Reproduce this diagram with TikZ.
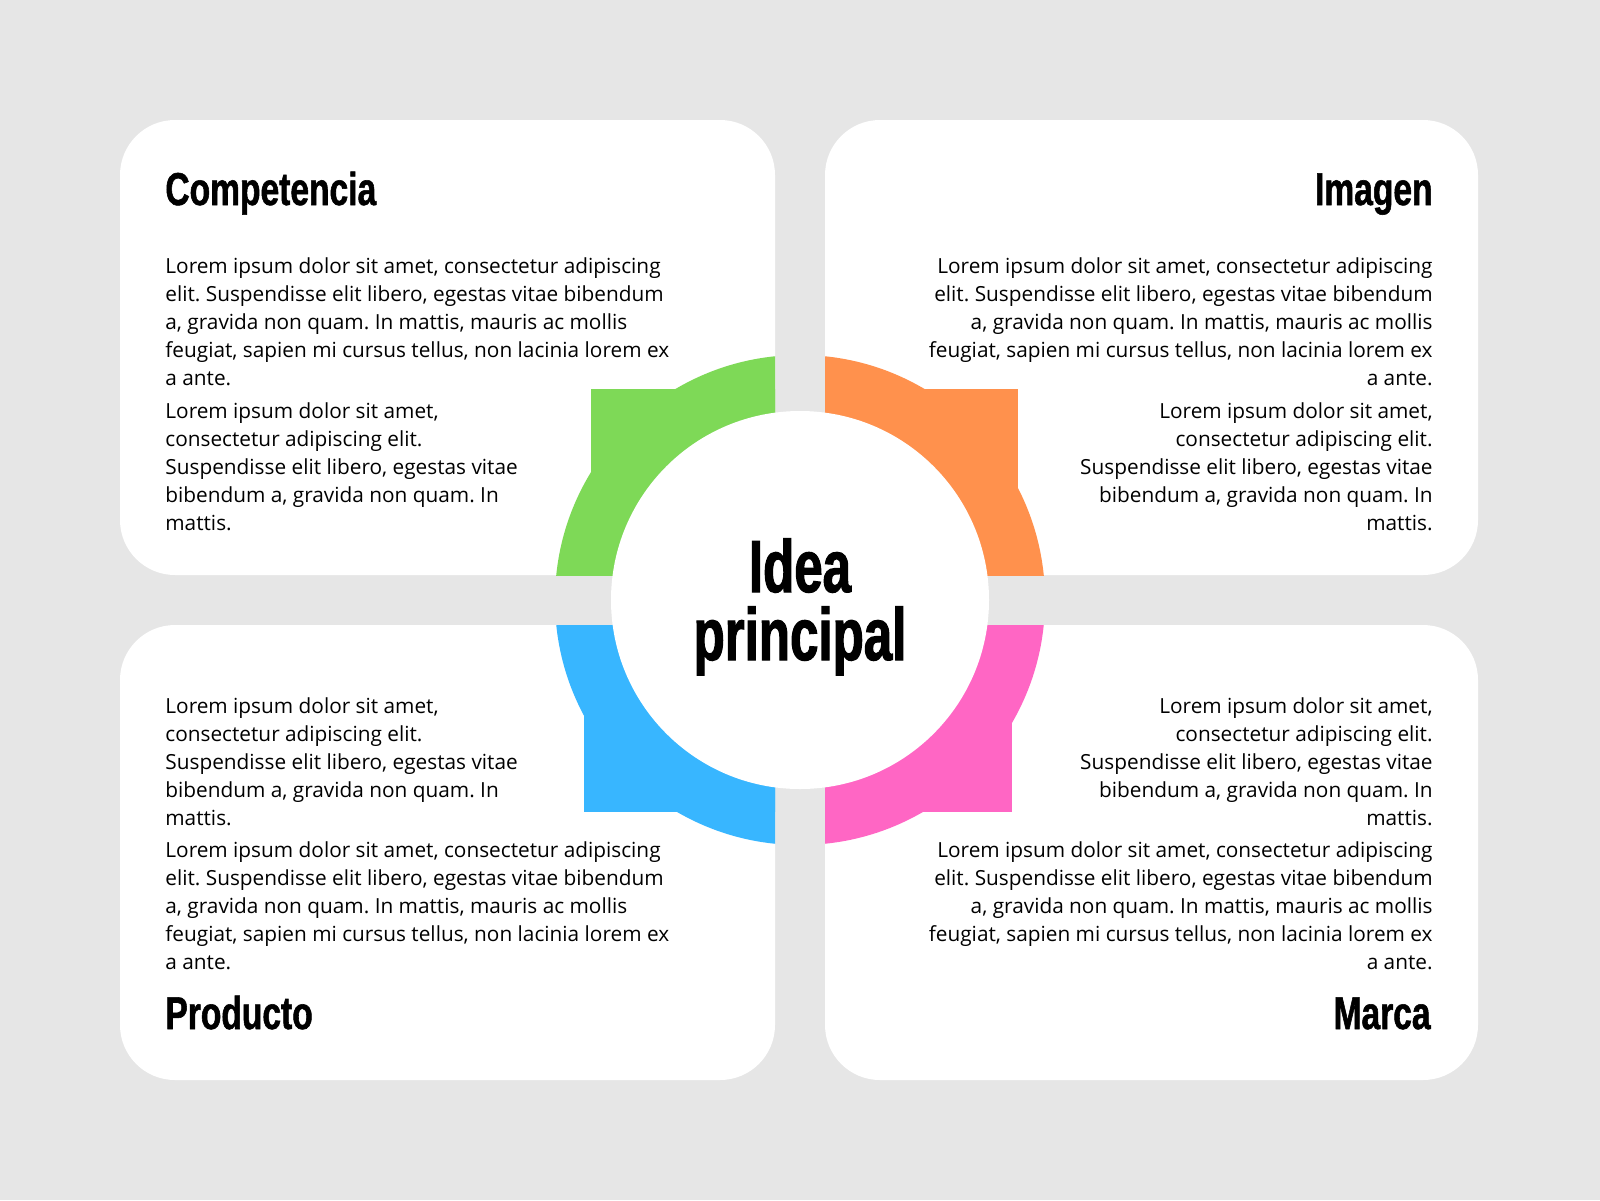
\documentclass[tikz,border=0pt]{standalone}
\usepackage{fontspec}
\setmainfont{Open Sans}
\newfontfamily\titlefont{Liberation Sans}[FakeStretch=0.73, BoldFeatures={FakeBold=1.2}]
\newfontfamily\ideafont{Liberation Sans}[FakeStretch=0.69, BoldFeatures={FakeBold=1.5}]
\definecolor{bggray}{HTML}{E6E6E6}
\definecolor{qgreen}{HTML}{7ED957}
\definecolor{qorange}{HTML}{FF914D}
\definecolor{qblue}{HTML}{38B6FF}
\definecolor{qpink}{HTML}{FF66C4}
\frenchspacing
\newcommand\lipLong{Lorem ipsum dolor sit amet, consectetur adipiscing\\elit. Suspendisse elit libero, egestas vitae bibendum\\a, gravida non quam. In mattis, mauris ac mollis\\feugiat, sapien mi cursus tellus, non lacinia lorem ex\\a ante.}
\newcommand\lipShort{Lorem ipsum dolor sit amet,\\consectetur adipiscing elit.\\Suspendisse elit libero, egestas vitae\\bibendum a, gravida non quam. In\\mattis.}
\begin{document}
\begin{tikzpicture}[x=0.5pt,y=-0.5pt,
  card/.style={fill=white, rounded corners=27.5pt},
  ttl/.style={font=\titlefont\bfseries\fontsize{23pt}{23pt}\selectfont, inner sep=0pt, text=black},
  body/.style={font=\fontsize{10.4pt}{14pt}\selectfont, inner sep=0pt, text=black},
  idea/.style={font=\ideafont\bfseries\fontsize{37pt}{34pt}\selectfont, inner sep=0pt, text=black}]
\fill[bggray] (0,0) rectangle (1600,1200);
\useasboundingbox (0,0) rectangle (1600,1200);
% cards
\fill[card] (120,120) rectangle (775,575);
\fill[card] (825,120) rectangle (1478,575);
\fill[card] (120,625) rectangle (775,1080);
\fill[card] (825,625) rectangle (1478,1080);
% ring quadrants
\begin{scope}
  \clip (0,0) rectangle (775,575);
  \fill[qgreen] (800,600) circle[radius=122.5pt];
  \fill[qgreen] (591,389) rectangle (800,600);
\end{scope}
\begin{scope}
  \clip (825,0) rectangle (1600,575);
  \fill[qorange] (800,600) circle[radius=122.5pt];
  \fill[qorange] (1018,389) rectangle (800,600);
\end{scope}
\begin{scope}
  \clip (0,625) rectangle (775,1200);
  \fill[qblue] (800,600) circle[radius=122.5pt];
  \fill[qblue] (584,812) rectangle (800,600);
\end{scope}
\begin{scope}
  \clip (825,625) rectangle (1600,1200);
  \fill[qpink] (800,600) circle[radius=122.5pt];
  \fill[qpink] (1012,812) rectangle (800,600);
\end{scope}
\fill[white] (800,600) circle[radius=94.5pt];
% center text
\node[idea, anchor=base] (main) at (800,592) {\parbox[t]{250pt}{\centering Idea\\principal}};
% titles
\node[ttl, anchor=base west] (tcomp) at (165,205) {Competencia};
\node[ttl, anchor=base east] (timag) at (1433,205) {Imagen};
\node[ttl, anchor=base west] (tprod) at (165,1029) {Producto};
\node[ttl, anchor=base east] (tmarc) at (1431,1029) {Marca};
% paragraphs
\node[body, anchor=base west] (tlA) at (165,273) {\parbox[t]{300pt}{\raggedright\lipLong}};
\node[body, anchor=base west] (tlB) at (165,418) {\parbox[t]{300pt}{\raggedright\lipShort}};
\node[body, anchor=base east] (trA) at (1433,273) {\parbox[t]{300pt}{\raggedleft\lipLong}};
\node[body, anchor=base east] (trB) at (1433,418) {\parbox[t]{300pt}{\raggedleft\lipShort}};
\node[body, anchor=base west] (blB) at (165,713) {\parbox[t]{300pt}{\raggedright\lipShort}};
\node[body, anchor=base west] (blA) at (165,857) {\parbox[t]{300pt}{\raggedright\lipLong}};
\node[body, anchor=base east] (brB) at (1433,713) {\parbox[t]{300pt}{\raggedleft\lipShort}};
\node[body, anchor=base east] (brA) at (1433,857) {\parbox[t]{300pt}{\raggedleft\lipLong}};
\end{tikzpicture}
\end{document}
